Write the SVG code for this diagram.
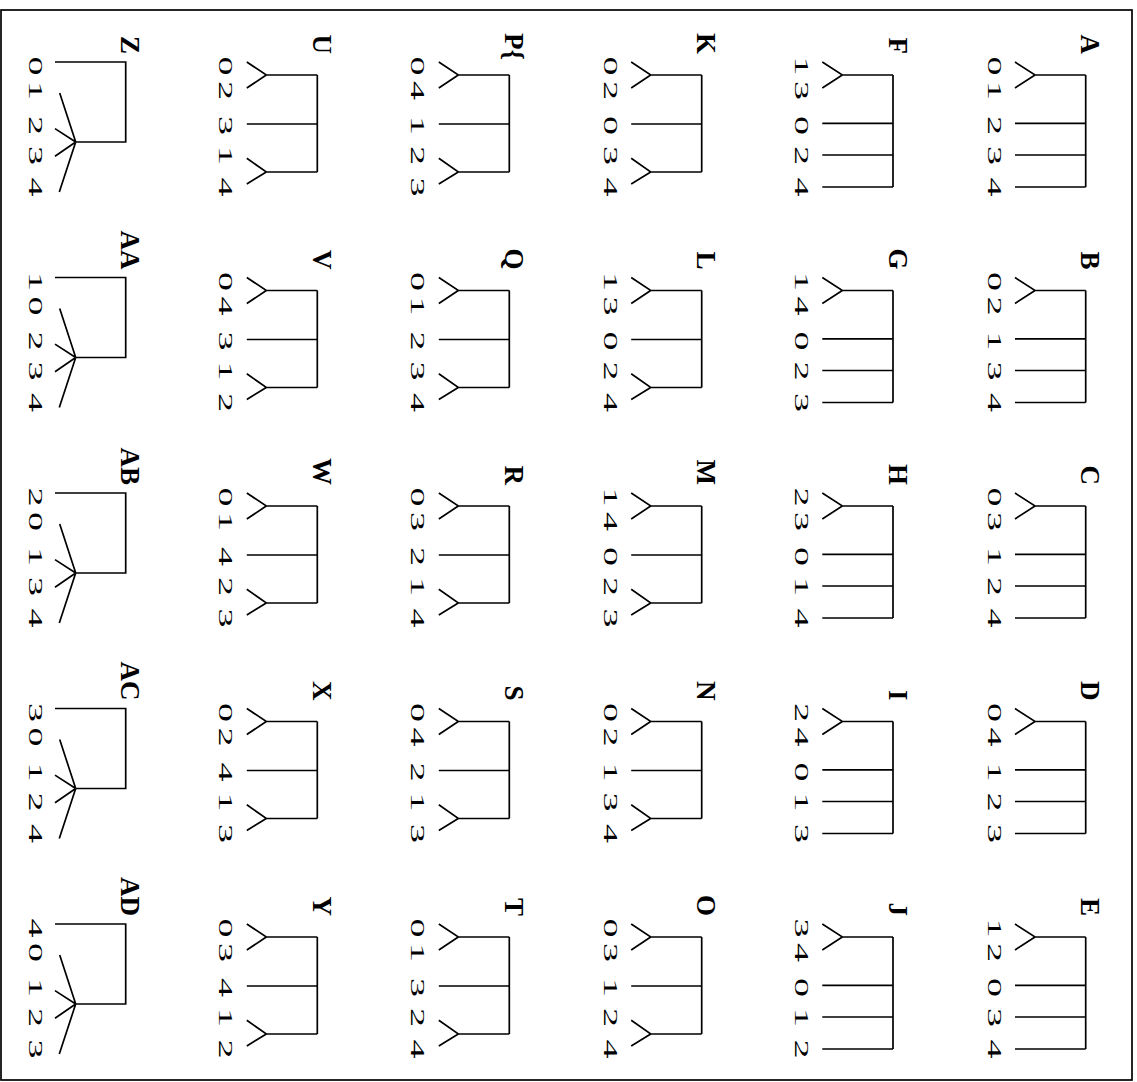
<svg xmlns="http://www.w3.org/2000/svg" width="1137" height="1082" viewBox="0 0 1137 1082">
<style>
.ln{fill:none;stroke:#000;stroke-width:1.7;stroke-linecap:butt}
.lab{font-family:"Liberation Serif","Times New Roman",serif;font-weight:bold;font-size:27px;fill:#000}
.dg{font-family:"Liberation Serif","Times New Roman",serif;font-size:19px;fill:#000;text-anchor:middle}
</style>
<defs>
<path id="t1" class="ln" d="M0,13V125M0,13H-50.7L-70.7,0M-50.7,13L-70.7,26M0,61.3H-70.7M0,93H-70.7M0,125H-70.7"/>
<path id="t2" class="ln" d="M0,13V110M0,13H-51L-70.5,0M-51,13L-70.5,26M0,62H-70.5M0,110H-51L-70.5,96.3M-51,110L-70.5,122"/>
<path id="t3" class="ln" d="M-70.7,0H0V80H-50M-50,80L-66,31M-50,80L-70.7,66.6M-50,80L-70.7,94.3M-50,80L-66.4,130"/>
</defs>
<rect x="1" y="10" width="1131" height="1070" fill="none" stroke="#000" stroke-width="1.7"/>

<g id="tree-A" transform="translate(1085.7,62)"><use href="#t1"/><text class="lab" text-anchor="end" transform="translate(-4.5,-8) rotate(90)">A</text><text class="dg" transform="translate(-98,4) rotate(90) scale(2,1)">0</text><text class="dg" transform="translate(-98,28.5) rotate(90) scale(2,1)">1</text><text class="dg" transform="translate(-98,63.5) rotate(90) scale(2,1)">2</text><text class="dg" transform="translate(-98,93.5) rotate(90) scale(2,1)">3</text><text class="dg" transform="translate(-98,125) rotate(90) scale(2,1)">4</text></g>
<g id="tree-B" transform="translate(1085.7,277.5)"><use href="#t1"/><text class="lab" text-anchor="end" transform="translate(-4.5,-8) rotate(90)">B</text><text class="dg" transform="translate(-98,4) rotate(90) scale(2,1)">0</text><text class="dg" transform="translate(-98,28.5) rotate(90) scale(2,1)">2</text><text class="dg" transform="translate(-98,63.5) rotate(90) scale(2,1)">1</text><text class="dg" transform="translate(-98,93.5) rotate(90) scale(2,1)">3</text><text class="dg" transform="translate(-98,125) rotate(90) scale(2,1)">4</text></g>
<g id="tree-C" transform="translate(1085.7,493)"><use href="#t1"/><text class="lab" text-anchor="end" transform="translate(-4.5,-8) rotate(90)">C</text><text class="dg" transform="translate(-98,4) rotate(90) scale(2,1)">0</text><text class="dg" transform="translate(-98,28.5) rotate(90) scale(2,1)">3</text><text class="dg" transform="translate(-98,63.5) rotate(90) scale(2,1)">1</text><text class="dg" transform="translate(-98,93.5) rotate(90) scale(2,1)">2</text><text class="dg" transform="translate(-98,125) rotate(90) scale(2,1)">4</text></g>
<g id="tree-D" transform="translate(1085.7,708.5)"><use href="#t1"/><text class="lab" text-anchor="end" transform="translate(-4.5,-8) rotate(90)">D</text><text class="dg" transform="translate(-98,4) rotate(90) scale(2,1)">0</text><text class="dg" transform="translate(-98,28.5) rotate(90) scale(2,1)">4</text><text class="dg" transform="translate(-98,63.5) rotate(90) scale(2,1)">1</text><text class="dg" transform="translate(-98,93.5) rotate(90) scale(2,1)">2</text><text class="dg" transform="translate(-98,125) rotate(90) scale(2,1)">3</text></g>
<g id="tree-E" transform="translate(1085.7,924)"><use href="#t1"/><text class="lab" text-anchor="end" transform="translate(-4.5,-8) rotate(90)">E</text><text class="dg" transform="translate(-98,4) rotate(90) scale(2,1)">1</text><text class="dg" transform="translate(-98,28.5) rotate(90) scale(2,1)">2</text><text class="dg" transform="translate(-98,63.5) rotate(90) scale(2,1)">0</text><text class="dg" transform="translate(-98,93.5) rotate(90) scale(2,1)">3</text><text class="dg" transform="translate(-98,125) rotate(90) scale(2,1)">4</text></g>

<g id="tree-F" transform="translate(893,62)"><use href="#t1"/><text class="lab" text-anchor="end" transform="translate(-4.5,-8) rotate(90)">F</text><text class="dg" transform="translate(-98,4) rotate(90) scale(2,1)">1</text><text class="dg" transform="translate(-98,28.5) rotate(90) scale(2,1)">3</text><text class="dg" transform="translate(-98,63.5) rotate(90) scale(2,1)">0</text><text class="dg" transform="translate(-98,93.5) rotate(90) scale(2,1)">2</text><text class="dg" transform="translate(-98,125) rotate(90) scale(2,1)">4</text></g>
<g id="tree-G" transform="translate(893,277.5)"><use href="#t1"/><text class="lab" text-anchor="end" transform="translate(-4.5,-8) rotate(90)">G</text><text class="dg" transform="translate(-98,4) rotate(90) scale(2,1)">1</text><text class="dg" transform="translate(-98,28.5) rotate(90) scale(2,1)">4</text><text class="dg" transform="translate(-98,63.5) rotate(90) scale(2,1)">0</text><text class="dg" transform="translate(-98,93.5) rotate(90) scale(2,1)">2</text><text class="dg" transform="translate(-98,125) rotate(90) scale(2,1)">3</text></g>
<g id="tree-H" transform="translate(893,493)"><use href="#t1"/><text class="lab" text-anchor="end" transform="translate(-4.5,-8) rotate(90)">H</text><text class="dg" transform="translate(-98,4) rotate(90) scale(2,1)">2</text><text class="dg" transform="translate(-98,28.5) rotate(90) scale(2,1)">3</text><text class="dg" transform="translate(-98,63.5) rotate(90) scale(2,1)">0</text><text class="dg" transform="translate(-98,93.5) rotate(90) scale(2,1)">1</text><text class="dg" transform="translate(-98,125) rotate(90) scale(2,1)">4</text></g>
<g id="tree-I" transform="translate(893,708.5)"><use href="#t1"/><text class="lab" text-anchor="end" transform="translate(-4.5,-8) rotate(90)">I</text><text class="dg" transform="translate(-98,4) rotate(90) scale(2,1)">2</text><text class="dg" transform="translate(-98,28.5) rotate(90) scale(2,1)">4</text><text class="dg" transform="translate(-98,63.5) rotate(90) scale(2,1)">0</text><text class="dg" transform="translate(-98,93.5) rotate(90) scale(2,1)">1</text><text class="dg" transform="translate(-98,125) rotate(90) scale(2,1)">3</text></g>
<g id="tree-J" transform="translate(893,924)"><use href="#t1"/><text class="lab" text-anchor="end" transform="translate(-4.5,-8) rotate(90)">J</text><text class="dg" transform="translate(-98,4) rotate(90) scale(2,1)">3</text><text class="dg" transform="translate(-98,28.5) rotate(90) scale(2,1)">4</text><text class="dg" transform="translate(-98,63.5) rotate(90) scale(2,1)">0</text><text class="dg" transform="translate(-98,93.5) rotate(90) scale(2,1)">1</text><text class="dg" transform="translate(-98,125) rotate(90) scale(2,1)">2</text></g>

<g id="tree-K" transform="translate(701.7,62)"><use href="#t2"/><text class="lab" text-anchor="end" transform="translate(-4.5,-8) rotate(90)">K</text><text class="dg" transform="translate(-98,4) rotate(90) scale(2,1)">0</text><text class="dg" transform="translate(-98,28.5) rotate(90) scale(2,1)">2</text><text class="dg" transform="translate(-98,63.5) rotate(90) scale(2,1)">0</text><text class="dg" transform="translate(-98,93.5) rotate(90) scale(2,1)">3</text><text class="dg" transform="translate(-98,125) rotate(90) scale(2,1)">4</text></g>
<g id="tree-L" transform="translate(701.7,277.5)"><use href="#t2"/><text class="lab" text-anchor="end" transform="translate(-4.5,-8) rotate(90)">L</text><text class="dg" transform="translate(-98,4) rotate(90) scale(2,1)">1</text><text class="dg" transform="translate(-98,28.5) rotate(90) scale(2,1)">3</text><text class="dg" transform="translate(-98,63.5) rotate(90) scale(2,1)">0</text><text class="dg" transform="translate(-98,93.5) rotate(90) scale(2,1)">2</text><text class="dg" transform="translate(-98,125) rotate(90) scale(2,1)">4</text></g>
<g id="tree-M" transform="translate(701.7,493)"><use href="#t2"/><text class="lab" text-anchor="end" transform="translate(-4.5,-8) rotate(90)">M</text><text class="dg" transform="translate(-98,4) rotate(90) scale(2,1)">1</text><text class="dg" transform="translate(-98,28.5) rotate(90) scale(2,1)">4</text><text class="dg" transform="translate(-98,63.5) rotate(90) scale(2,1)">0</text><text class="dg" transform="translate(-98,93.5) rotate(90) scale(2,1)">2</text><text class="dg" transform="translate(-98,125) rotate(90) scale(2,1)">3</text></g>
<g id="tree-N" transform="translate(701.7,708.5)"><use href="#t2"/><text class="lab" text-anchor="end" transform="translate(-4.5,-8) rotate(90)">N</text><text class="dg" transform="translate(-98,4) rotate(90) scale(2,1)">0</text><text class="dg" transform="translate(-98,28.5) rotate(90) scale(2,1)">2</text><text class="dg" transform="translate(-98,63.5) rotate(90) scale(2,1)">1</text><text class="dg" transform="translate(-98,93.5) rotate(90) scale(2,1)">3</text><text class="dg" transform="translate(-98,125) rotate(90) scale(2,1)">4</text></g>
<g id="tree-O" transform="translate(701.7,924)"><use href="#t2"/><text class="lab" text-anchor="end" transform="translate(-4.5,-8) rotate(90)">O</text><text class="dg" transform="translate(-98,4) rotate(90) scale(2,1)">0</text><text class="dg" transform="translate(-98,28.5) rotate(90) scale(2,1)">3</text><text class="dg" transform="translate(-98,63.5) rotate(90) scale(2,1)">1</text><text class="dg" transform="translate(-98,93.5) rotate(90) scale(2,1)">2</text><text class="dg" transform="translate(-98,125) rotate(90) scale(2,1)">4</text></g>

<g id="tree-P" transform="translate(509.3,62)"><use href="#t2"/><text class="lab" transform="translate(-4.5,-29) rotate(90)">P{</text><text class="dg" transform="translate(-98,4) rotate(90) scale(2,1)">0</text><text class="dg" transform="translate(-98,28.5) rotate(90) scale(2,1)">4</text><text class="dg" transform="translate(-98,63.5) rotate(90) scale(2,1)">1</text><text class="dg" transform="translate(-98,93.5) rotate(90) scale(2,1)">2</text><text class="dg" transform="translate(-98,125) rotate(90) scale(2,1)">3</text></g>
<g id="tree-Q" transform="translate(509.3,277.5)"><use href="#t2"/><text class="lab" text-anchor="end" transform="translate(-4.5,-8) rotate(90)">Q</text><text class="dg" transform="translate(-98,4) rotate(90) scale(2,1)">0</text><text class="dg" transform="translate(-98,28.5) rotate(90) scale(2,1)">1</text><text class="dg" transform="translate(-98,63.5) rotate(90) scale(2,1)">2</text><text class="dg" transform="translate(-98,93.5) rotate(90) scale(2,1)">3</text><text class="dg" transform="translate(-98,125) rotate(90) scale(2,1)">4</text></g>
<g id="tree-R" transform="translate(509.3,493)"><use href="#t2"/><text class="lab" text-anchor="end" transform="translate(-4.5,-8) rotate(90)">R</text><text class="dg" transform="translate(-98,4) rotate(90) scale(2,1)">0</text><text class="dg" transform="translate(-98,28.5) rotate(90) scale(2,1)">3</text><text class="dg" transform="translate(-98,63.5) rotate(90) scale(2,1)">2</text><text class="dg" transform="translate(-98,93.5) rotate(90) scale(2,1)">1</text><text class="dg" transform="translate(-98,125) rotate(90) scale(2,1)">4</text></g>
<g id="tree-S" transform="translate(509.3,708.5)"><use href="#t2"/><text class="lab" text-anchor="end" transform="translate(-4.5,-8) rotate(90)">S</text><text class="dg" transform="translate(-98,4) rotate(90) scale(2,1)">0</text><text class="dg" transform="translate(-98,28.5) rotate(90) scale(2,1)">4</text><text class="dg" transform="translate(-98,63.5) rotate(90) scale(2,1)">2</text><text class="dg" transform="translate(-98,93.5) rotate(90) scale(2,1)">1</text><text class="dg" transform="translate(-98,125) rotate(90) scale(2,1)">3</text></g>
<g id="tree-T" transform="translate(509.3,924)"><use href="#t2"/><text class="lab" text-anchor="end" transform="translate(-4.5,-8) rotate(90)">T</text><text class="dg" transform="translate(-98,4) rotate(90) scale(2,1)">0</text><text class="dg" transform="translate(-98,28.5) rotate(90) scale(2,1)">1</text><text class="dg" transform="translate(-98,63.5) rotate(90) scale(2,1)">3</text><text class="dg" transform="translate(-98,93.5) rotate(90) scale(2,1)">2</text><text class="dg" transform="translate(-98,125) rotate(90) scale(2,1)">4</text></g>

<g id="tree-U" transform="translate(317.3,62)"><use href="#t2"/><text class="lab" text-anchor="end" transform="translate(-4.5,-8) rotate(90)">U</text><text class="dg" transform="translate(-98,4) rotate(90) scale(2,1)">0</text><text class="dg" transform="translate(-98,28.5) rotate(90) scale(2,1)">2</text><text class="dg" transform="translate(-98,63.5) rotate(90) scale(2,1)">3</text><text class="dg" transform="translate(-98,93.5) rotate(90) scale(2,1)">1</text><text class="dg" transform="translate(-98,125) rotate(90) scale(2,1)">4</text></g>
<g id="tree-V" transform="translate(317.3,277.5)"><use href="#t2"/><text class="lab" text-anchor="end" transform="translate(-4.5,-8) rotate(90)">V</text><text class="dg" transform="translate(-98,4) rotate(90) scale(2,1)">0</text><text class="dg" transform="translate(-98,28.5) rotate(90) scale(2,1)">4</text><text class="dg" transform="translate(-98,63.5) rotate(90) scale(2,1)">3</text><text class="dg" transform="translate(-98,93.5) rotate(90) scale(2,1)">1</text><text class="dg" transform="translate(-98,125) rotate(90) scale(2,1)">2</text></g>
<g id="tree-W" transform="translate(317.3,493)"><use href="#t2"/><text class="lab" text-anchor="end" transform="translate(-4.5,-8) rotate(90)">W</text><text class="dg" transform="translate(-98,4) rotate(90) scale(2,1)">0</text><text class="dg" transform="translate(-98,28.5) rotate(90) scale(2,1)">1</text><text class="dg" transform="translate(-98,63.5) rotate(90) scale(2,1)">4</text><text class="dg" transform="translate(-98,93.5) rotate(90) scale(2,1)">2</text><text class="dg" transform="translate(-98,125) rotate(90) scale(2,1)">3</text></g>
<g id="tree-X" transform="translate(317.3,708.5)"><use href="#t2"/><text class="lab" text-anchor="end" transform="translate(-4.5,-8) rotate(90)">X</text><text class="dg" transform="translate(-98,4) rotate(90) scale(2,1)">0</text><text class="dg" transform="translate(-98,28.5) rotate(90) scale(2,1)">2</text><text class="dg" transform="translate(-98,63.5) rotate(90) scale(2,1)">4</text><text class="dg" transform="translate(-98,93.5) rotate(90) scale(2,1)">1</text><text class="dg" transform="translate(-98,125) rotate(90) scale(2,1)">3</text></g>
<g id="tree-Y" transform="translate(317.3,924)"><use href="#t2"/><text class="lab" text-anchor="end" transform="translate(-4.5,-8) rotate(90)">Y</text><text class="dg" transform="translate(-98,4) rotate(90) scale(2,1)">0</text><text class="dg" transform="translate(-98,28.5) rotate(90) scale(2,1)">3</text><text class="dg" transform="translate(-98,63.5) rotate(90) scale(2,1)">4</text><text class="dg" transform="translate(-98,93.5) rotate(90) scale(2,1)">1</text><text class="dg" transform="translate(-98,125) rotate(90) scale(2,1)">2</text></g>

<g id="tree-Z" transform="translate(125.7,62)"><use href="#t3"/><text class="lab" text-anchor="end" transform="translate(-4.5,-8) rotate(90)">Z</text><text class="dg" transform="translate(-97,4) rotate(90) scale(2,1)">0</text><text class="dg" transform="translate(-97,28.5) rotate(90) scale(2,1)">1</text><text class="dg" transform="translate(-97,63.5) rotate(90) scale(2,1)">2</text><text class="dg" transform="translate(-97,93.5) rotate(90) scale(2,1)">3</text><text class="dg" transform="translate(-97,125) rotate(90) scale(2,1)">4</text></g>
<g id="tree-AA" transform="translate(125.7,277.5)"><use href="#t3"/><text class="lab" text-anchor="end" transform="translate(-4.5,-8) rotate(90)">AA</text><text class="dg" transform="translate(-97,4) rotate(90) scale(2,1)">1</text><text class="dg" transform="translate(-97,28.5) rotate(90) scale(2,1)">0</text><text class="dg" transform="translate(-97,63.5) rotate(90) scale(2,1)">2</text><text class="dg" transform="translate(-97,93.5) rotate(90) scale(2,1)">3</text><text class="dg" transform="translate(-97,125) rotate(90) scale(2,1)">4</text></g>
<g id="tree-AB" transform="translate(125.7,493)"><use href="#t3"/><text class="lab" text-anchor="end" transform="translate(-4.5,-8) rotate(90)">AB</text><text class="dg" transform="translate(-97,4) rotate(90) scale(2,1)">2</text><text class="dg" transform="translate(-97,28.5) rotate(90) scale(2,1)">0</text><text class="dg" transform="translate(-97,63.5) rotate(90) scale(2,1)">1</text><text class="dg" transform="translate(-97,93.5) rotate(90) scale(2,1)">3</text><text class="dg" transform="translate(-97,125) rotate(90) scale(2,1)">4</text></g>
<g id="tree-AC" transform="translate(125.7,708.5)"><use href="#t3"/><text class="lab" text-anchor="end" transform="translate(-4.5,-8) rotate(90)">AC</text><text class="dg" transform="translate(-97,4) rotate(90) scale(2,1)">3</text><text class="dg" transform="translate(-97,28.5) rotate(90) scale(2,1)">0</text><text class="dg" transform="translate(-97,63.5) rotate(90) scale(2,1)">1</text><text class="dg" transform="translate(-97,93.5) rotate(90) scale(2,1)">2</text><text class="dg" transform="translate(-97,125) rotate(90) scale(2,1)">4</text></g>
<g id="tree-AD" transform="translate(125.7,924)"><use href="#t3"/><text class="lab" text-anchor="end" transform="translate(-4.5,-8) rotate(90)">AD</text><text class="dg" transform="translate(-97,4) rotate(90) scale(2,1)">4</text><text class="dg" transform="translate(-97,28.5) rotate(90) scale(2,1)">0</text><text class="dg" transform="translate(-97,63.5) rotate(90) scale(2,1)">1</text><text class="dg" transform="translate(-97,93.5) rotate(90) scale(2,1)">2</text><text class="dg" transform="translate(-97,125) rotate(90) scale(2,1)">3</text></g>
</svg>
